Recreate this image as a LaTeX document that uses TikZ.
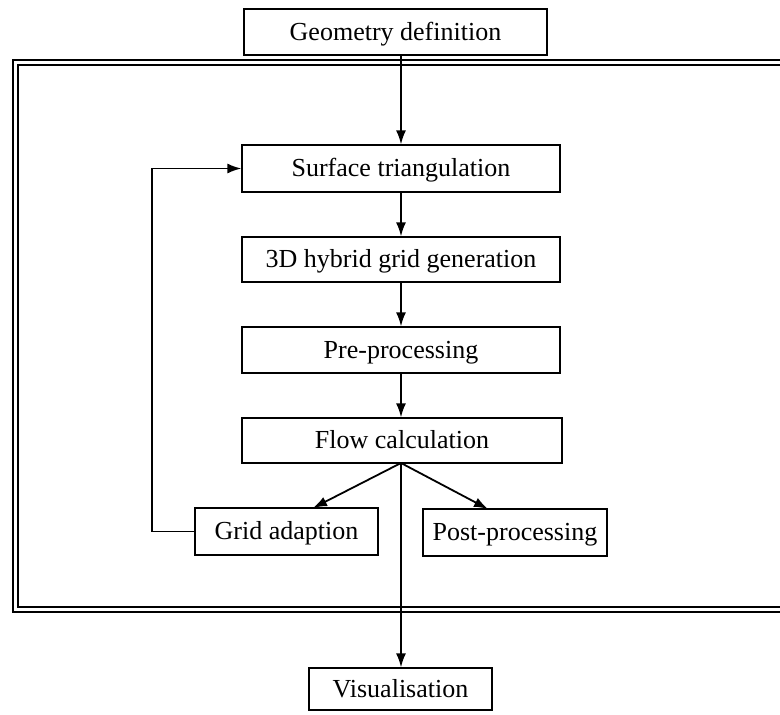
\documentclass[tikz,border=0pt]{standalone}
\usepackage{fontspec}
\setmainfont{Liberation Serif}
\usetikzlibrary{arrows.meta}
\begin{document}
\begin{tikzpicture}[x=1pt,y=-1pt,
  box/.style={draw, line width=1.2pt, inner sep=0pt, fill=white,
    font=\fontsize{26}{30}\selectfont, text height=20pt, text depth=4pt},
  arr/.style={line width=1.8pt, -{Latex[length=14pt,width=10pt]}},
  frameline/.style={line width=1.6pt}]
\useasboundingbox (0,0) rectangle (780,715);
\fill[white] (0,0) rectangle (780,715);
% double frame, open at the right
\draw[frameline] (780,60) -- (13,60) -- (13,612) -- (780,612);
\draw[frameline] (780,65) -- (18,65) -- (18,607) -- (780,607);
% nodes
\node[box, minimum width=303, minimum height=46] (geo) at (395.5,32) {Geometry definition};
\node[box, minimum width=318, minimum height=47] (surf) at (401,168.5) {Surface triangulation};
\node[box, minimum width=318, minimum height=45] (hyb) at (401,259.5) {3D hybrid grid generation};
\node[box, minimum width=318, minimum height=46] (pre) at (401,350) {Pre-processing};
\node[box, minimum width=320, minimum height=45] (flow) at (402,440.5) {Flow calculation};
\node[box, minimum width=183, minimum height=47] (grid) at (286.5,531.5) {Grid adaption};
\node[box, minimum width=184, minimum height=47] (post) at (515,532.5) {Post-processing};
\node[box, minimum width=183, minimum height=42] (vis) at (400.5,689) {Visualisation};
\coordinate (fs) at (401,463);
\coordinate (gt) at (313,508);
\coordinate (pt) at (488,509);
\coordinate (loopx) at (152,0);
% connectors
\draw[arr] (surf.north |- geo.south) -- (surf.north);
\draw[arr] (surf.south) -- (hyb.north);
\draw[arr] (hyb.south) -- (pre.north);
\draw[arr] (pre.south) -- (fs |- flow.north);
\draw[arr] (fs) -- (gt);
\draw[arr] (fs) -- (pt);
\draw[arr] (fs) -- (fs |- vis.north);
\draw[arr] (grid.west) -- (loopx |- grid.west) -- (loopx |- surf.west) -- (surf.west);
\end{tikzpicture}
\end{document}
